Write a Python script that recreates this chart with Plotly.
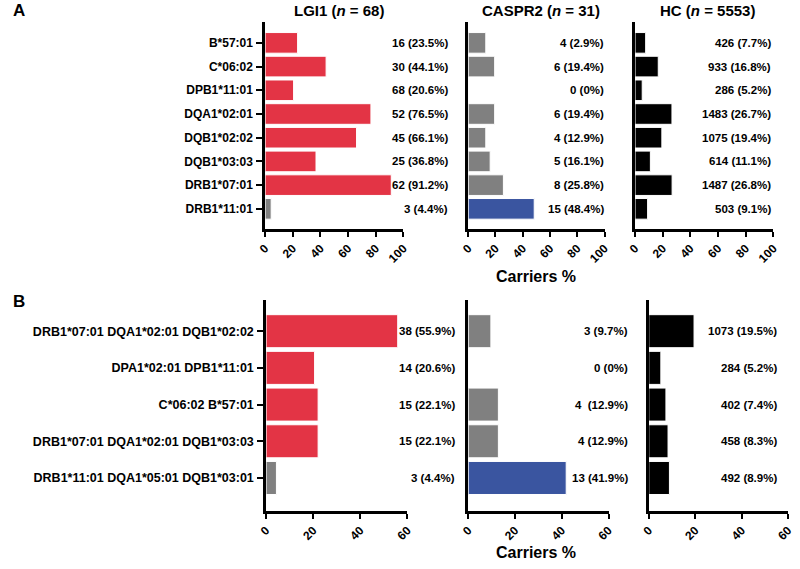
import plotly.graph_objects as go

W, H = 800, 569

# ---------------- Data ----------------
top_categories = ["B*57:01", "C*06:02", "DPB1*11:01", "DQA1*02:01",
                  "DQB1*02:02", "DQB1*03:03", "DRB1*07:01", "DRB1*11:01"]
top_lgi1 = [23.5, 44.1, 20.6, 76.5, 66.1, 36.8, 91.2, 4.4]
top_caspr2 = [12.9, 19.4, 0, 19.4, 12.9, 16.1, 25.8, 48.4]
top_hc = [7.7, 16.8, 5.2, 26.7, 19.4, 11.1, 26.8, 9.1]
top_lgi1_labels = ["16 (23.5%)", "30 (44.1%)", "68 (20.6%)", "52 (76.5%)",
                   "45 (66.1%)", "25 (36.8%)", "62 (91.2%)", "3 (4.4%)"]
top_caspr2_labels = ["4 (2.9%)", "6 (19.4%)", "0 (0%)", "6 (19.4%)",
                     "4 (12.9%)", "5 (16.1%)", "8 (25.8%)", "15 (48.4%)"]
top_hc_labels = ["426 (7.7%)", "933 (16.8%)", "286 (5.2%)", "1483 (26.7%)",
                 "1075 (19.4%)", "614 (11.1%)", "1487 (26.8%)", "503 (9.1%)"]

bot_categories = ["DRB1*07:01 DQA1*02:01 DQB1*02:02", "DPA1*02:01 DPB1*11:01",
                  "C*06:02 B*57:01", "DRB1*07:01 DQA1*02:01 DQB1*03:03",
                  "DRB1*11:01 DQA1*05:01 DQB1*03:01"]
bot_lgi1 = [55.9, 20.6, 22.1, 22.1, 4.4]
bot_caspr2 = [9.7, 0, 12.9, 12.9, 41.9]
bot_hc = [19.5, 5.2, 7.4, 8.3, 8.9]
bot_lgi1_labels = ["38 (55.9%)", "14 (20.6%)", "15 (22.1%)", "15 (22.1%)", "3 (4.4%)"]
bot_caspr2_labels = ["3 (9.7%)", "0 (0%)", "4  (12.9%)", "4 (12.9%)", "13 (41.9%)"]
bot_hc_labels = ["1073 (19.5%)", "284 (5.2%)", "402 (7.4%)", "458 (8.3%)", "492 (8.9%)"]

top_ticks = [0, 20, 40, 60, 80, 100]
bot_ticks = [0, 20, 40, 60]

RED, GRAY, BLUE, BLACK = "#E33445", "#808080", "#3A55A0", "#000000"
top_lgi1_colors = [RED] * 7 + [GRAY]
top_caspr2_colors = [GRAY] * 7 + [BLUE]
bot_lgi1_colors = [RED] * 4 + [GRAY]
bot_caspr2_colors = [GRAY] * 4 + [BLUE]

FONT = "Arial, Liberation Sans, sans-serif"

def xd(a, b):
    return [a / W, b / W]

def yd(top, bottom):
    return [1 - bottom / H, 1 - top / H]

fig = go.Figure()

panels = [
    (1, top_categories, top_lgi1, top_lgi1_colors, top_lgi1_labels, xd(262, 403), yd(22, 229), [0, 100], top_ticks, True, 449, [7.85, -0.88], 0.87, 12),
    (2, top_categories, top_caspr2, top_caspr2_colors, top_caspr2_labels, xd(469, 608), yd(22, 229), [0, 100], top_ticks, False, 608, [7.85, -0.88], 0.87, 12),
    (3, top_categories, top_hc, [BLACK] * 8, top_hc_labels, xd(639, 780), yd(22, 229), [0, 100], top_ticks, False, 779, [7.85, -0.88], 0.87, 12),
    (4, bot_categories, bot_lgi1, bot_lgi1_colors, bot_lgi1_labels, xd(263, 407), yd(300, 511), [0, 60], bot_ticks, True, 457, [4.9, -0.85], 0.9, 12.5),
    (5, bot_categories, bot_caspr2, bot_caspr2_colors, bot_caspr2_labels, xd(469, 612), yd(300, 511), [0, 60], bot_ticks, False, 633, [4.9, -0.85], 0.9, 12.5),
    (6, bot_categories, bot_hc, [BLACK] * 5, bot_hc_labels, xd(653, 795), yd(300, 511), [0, 60], bot_ticks, False, 785, [4.9, -0.85], 0.9, 12.5),
]

layout_updates = {}
annotations = []
for (i, cats, vals, cols, labels, xdom, ydom, xr, ticks, show_cats, lab_x, yr, bw, catsize) in panels:
    xa = "x" if i == 1 else f"x{i}"
    ya = "y" if i == 1 else f"y{i}"
    fig.add_trace(go.Bar(
        x=vals, y=cats, orientation="h", xaxis=xa, yaxis=ya,
        marker=dict(color=cols, line=dict(color="white", width=1)),
        width=bw, showlegend=False, hoverinfo="skip",
    ))
    xkey = "xaxis" if i == 1 else f"xaxis{i}"
    ykey = "yaxis" if i == 1 else f"yaxis{i}"
    layout_updates[xkey] = dict(
        domain=xdom, range=xr, anchor=ya, tickvals=ticks, ticktext=[str(t) for t in ticks],
        showgrid=False, zeroline=False, showline=True, linecolor="black", linewidth=2.5,
        ticks="outside", ticklen=5, tickwidth=2, tickcolor="black", tickangle=-45,
        tickfont=dict(family=FONT, size=12, color="black", weight="bold"),
    )
    layout_updates[ykey] = dict(
        domain=ydom, anchor=xa, type="category", categoryorder="array", categoryarray=cats,
        range=yr, showgrid=False, zeroline=False, showline=True, linecolor="black", linewidth=2.5,
        ticks="outside" if show_cats else "", ticklen=6, tickwidth=2, tickcolor="black",
        showticklabels=show_cats, ticklabelstandoff=1,
        tickfont=dict(family=FONT, size=catsize, color="black", weight="bold"),
    )
    for c, lab in zip(cats, labels):
        annotations.append(dict(
            x=lab_x / W, xref="paper", y=c, yref=ya, text=lab, showarrow=False,
            xanchor="right", yanchor="middle", borderpad=0,
            font=dict(family=FONT, size=11.5, color="black", weight="bold"),
        ))

titles = [("LGI1 (<i>n</i> = 68)", 337), ("CASPR2 (<i>n</i> = 31)", 543), ("HC (<i>n</i> = 5553)", 713)]
for t, cx in titles:
    annotations.append(dict(x=cx / W, y=1 - 11 / H, xref="paper", yref="paper", text=t,
                            showarrow=False, xanchor="center", yanchor="middle",
                            font=dict(family=FONT, size=15, color="black", weight="bold")))

for yy in (276, 552):
    annotations.append(dict(x=538 / W, y=1 - yy / H, xref="paper", yref="paper", text="Carriers %",
                            showarrow=False, xanchor="center", yanchor="middle",
                            font=dict(family=FONT, size=16, color="black", weight="bold")))

for lab, yy in (("A", 11), ("B", 301)):
    annotations.append(dict(x=3 / W, y=1 - yy / H, xref="paper", yref="paper", text=lab,
                            showarrow=False, xanchor="left", yanchor="middle",
                            font=dict(family=FONT, size=17, color="black", weight="bold")))

fig.update_layout(
    width=W, height=H, margin=dict(l=0, r=0, t=0, b=0),
    paper_bgcolor="white", plot_bgcolor="white",
    annotations=annotations, bargap=0.1,
    **layout_updates,
)

fig.write_html("out.html", config={"displayModeBar": False},
               post_script="document.body.style.margin='0';")
